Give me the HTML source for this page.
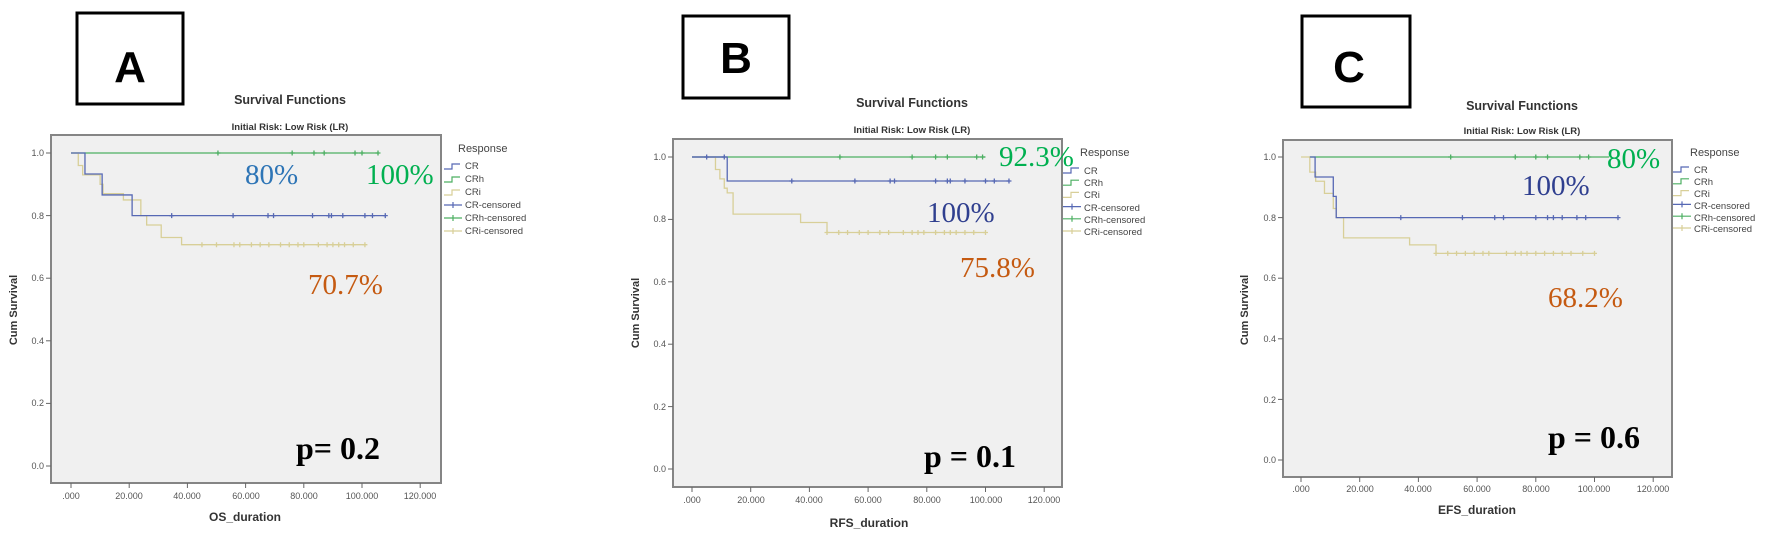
<!DOCTYPE html>
<html><head><meta charset="utf-8"><style>
html,body{margin:0;padding:0;background:#fff;}
svg{display:block;}
.tt{font-family:"Liberation Sans",sans-serif;font-weight:bold;fill:#333;}
.tk{font-family:"Liberation Sans",sans-serif;font-size:9px;fill:#555;}
.lg{font-family:"Liberation Sans",sans-serif;font-size:9.5px;fill:#444;}
.pc{font-family:"Liberation Serif",serif;font-size:29px;}
.pv{font-family:"Liberation Serif",serif;font-size:32px;font-weight:bold;fill:#000;}
.bl{font-family:"Liberation Sans",sans-serif;font-weight:bold;font-size:44px;fill:#000;}
</style></head><body>
<svg id="s" width="1772" height="543" viewBox="0 0 1772 543" xmlns="http://www.w3.org/2000/svg">
<!-- label boxes -->
<rect x="77" y="13" width="106" height="91" fill="#fff" stroke="#000" stroke-width="3"/>
<text class="bl" x="130" y="82" text-anchor="middle">A</text>
<rect x="683" y="16" width="106" height="82" fill="#fff" stroke="#000" stroke-width="3"/>
<text class="bl" x="736" y="73" text-anchor="middle">B</text>
<rect x="1302" y="16" width="108" height="91" fill="#fff" stroke="#000" stroke-width="3"/>
<text class="bl" x="1349" y="82" text-anchor="middle">C</text>

<!-- titles -->
<text class="tt" x="290" y="104" font-size="12.5" text-anchor="middle">Survival Functions</text>
<text class="tt" x="290" y="130" font-size="9.5" text-anchor="middle">Initial Risk: Low Risk (LR)</text>
<text class="tt" x="912" y="107" font-size="12.5" text-anchor="middle">Survival Functions</text>
<text class="tt" x="912" y="133" font-size="9.5" text-anchor="middle">Initial Risk: Low Risk (LR)</text>
<text class="tt" x="1522" y="110" font-size="12.5" text-anchor="middle">Survival Functions</text>
<text class="tt" x="1522" y="134" font-size="9.5" text-anchor="middle">Initial Risk: Low Risk (LR)</text>

<!-- plot backgrounds -->
<rect x="51" y="135" width="390" height="348" fill="#f0f0f0" stroke="#858585" stroke-width="2"/>
<rect x="673" y="139" width="389" height="348" fill="#f0f0f0" stroke="#858585" stroke-width="2"/>
<rect x="1283" y="140" width="389" height="337" fill="#f0f0f0" stroke="#858585" stroke-width="2"/>
<g id="plots"></g>

<!-- y tick labels A -->
<g class="tk" text-anchor="end">
<text x="44" y="156">1.0</text><text x="44" y="219">0.8</text><text x="44" y="281">0.6</text><text x="44" y="344">0.4</text><text x="44" y="406">0.2</text><text x="44" y="469">0.0</text>
<text x="666" y="160">1.0</text><text x="666" y="222">0.8</text><text x="666" y="285">0.6</text><text x="666" y="347">0.4</text><text x="666" y="410">0.2</text><text x="666" y="472">0.0</text>
<text x="1276" y="160">1.0</text><text x="1276" y="221">0.8</text><text x="1276" y="281">0.6</text><text x="1276" y="342">0.4</text><text x="1276" y="403">0.2</text><text x="1276" y="463">0.0</text>
</g>
<g class="tk" text-anchor="middle">
<text x="71" y="499">.000</text><text x="129" y="499">20.000</text><text x="187" y="499">40.000</text><text x="246" y="499">60.000</text><text x="304" y="499">80.000</text><text x="362" y="499">100.000</text><text x="420" y="499">120.000</text>
<text x="692" y="503">.000</text><text x="751" y="503">20.000</text><text x="809" y="503">40.000</text><text x="868" y="503">60.000</text><text x="927" y="503">80.000</text><text x="986" y="503">100.000</text><text x="1044" y="503">120.000</text>
<text x="1301" y="492">.000</text><text x="1360" y="492">20.000</text><text x="1418" y="492">40.000</text><text x="1477" y="492">60.000</text><text x="1536" y="492">80.000</text><text x="1594" y="492">100.000</text><text x="1653" y="492">120.000</text>
</g>
<text class="tt" x="245" y="521" font-size="12" text-anchor="middle">OS_duration</text>
<text class="tt" x="869" y="527" font-size="12" text-anchor="middle">RFS_duration</text>
<text class="tt" x="1477" y="514" font-size="12" text-anchor="middle">EFS_duration</text>
<text class="tt" font-size="11" transform="translate(17,310) rotate(-90)" text-anchor="middle">Cum Survival</text>
<text class="tt" font-size="11" transform="translate(639,313) rotate(-90)" text-anchor="middle">Cum Survival</text>
<text class="tt" font-size="11" transform="translate(1248,310) rotate(-90)" text-anchor="middle">Cum Survival</text>

<!-- legends text -->
<g class="lg">
<text x="458" y="152" font-size="11">Response</text>
<text x="465" y="169">CR</text><text x="465" y="182">CRh</text><text x="465" y="195">CRi</text><text x="465" y="208">CR-censored</text><text x="465" y="221">CRh-censored</text><text x="465" y="234">CRi-censored</text>
<text x="1080" y="156" font-size="11">Response</text>
<text x="1084" y="174">CR</text><text x="1084" y="186">CRh</text><text x="1084" y="198">CRi</text><text x="1084" y="211">CR-censored</text><text x="1084" y="223">CRh-censored</text><text x="1084" y="235">CRi-censored</text>
<text x="1690" y="156" font-size="11">Response</text>
<text x="1694" y="173">CR</text><text x="1694" y="185">CRh</text><text x="1694" y="197">CRi</text><text x="1694" y="209">CR-censored</text><text x="1694" y="221">CRh-censored</text><text x="1694" y="232">CRi-censored</text>
</g>

<!-- annotations -->
<text class="pc" x="245" y="184" fill="#2e75b6">80%</text>
<text class="pc" x="366" y="184" fill="#00b050">100%</text>
<text class="pc" x="308" y="294" fill="#c55a11">70.7%</text>
<text class="pv" x="296" y="459">p= 0.2</text>

<text class="pc" x="999" y="166" fill="#00b050">92.3%</text>
<text class="pc" x="927" y="222" fill="#2f3f8f">100%</text>
<text class="pc" x="960" y="277" fill="#c55a11">75.8%</text>
<text class="pv" x="924" y="467">p = 0.1</text>

<text class="pc" x="1607" y="168" fill="#00b050">80%</text>
<text class="pc" x="1522" y="195" fill="#2f3f8f">100%</text>
<text class="pc" x="1548" y="307" fill="#c55a11">68.2%</text>
<text class="pv" x="1548" y="448">p = 0.6</text>
</svg>
<script>
(function(){
var NS="http://www.w3.org/2000/svg",g=document.getElementById("plots");
function el(t,a){var e=document.createElementNS(NS,t);for(var k in a)e.setAttribute(k,a[k]);g.appendChild(e);return e;}
var BL="#5668b4",GR="#4caf62",BE="#d8cf98";
function panel(P){
  var X=function(t){return P.x0+t*P.pu},Y=function(s){return P.y0-s*(P.y0-P.y1)};
  // ticks
  for(var i=0;i<=5;i++){var y=Y(i*0.2);el("line",{x1:P.L-5,x2:P.L,y1:y,y2:y,stroke:"#666","stroke-width":1});}
  for(var i=0;i<=6;i++){var x=X(i*20);el("line",{x1:x,x2:x,y1:P.B,y2:P.B+5,stroke:"#666","stroke-width":1});}
  P.c.forEach(function(c){
    var d="M"+X(c.s[0][0])+","+Y(c.s[0][1]);
    for(var j=1;j<c.s.length;j++){d+=" H"+X(c.s[j][0])+" V"+Y(c.s[j][1]);}
    d+=" H"+X(c.end);
    el("path",{d:d,fill:"none",stroke:c.col,"stroke-width":1.3});
    c.cen.forEach(function(t){var x=X(t),y=Y(c.lv);
      el("path",{d:"M"+(x-2.5)+","+y+"H"+(x+2.5)+"M"+x+","+(y-2.5)+"V"+(y+2.5),stroke:c.col,"stroke-width":1.3});});
  });
  // legend
  var lx=P.lx,ly=P.ly,sp=P.ls;
  [BL,GR,BE].forEach(function(col,i){var y=ly+i*sp;
    el("path",{d:"M"+lx+","+(y+3)+"H"+(lx+8)+"V"+(y-2)+"H"+(lx+16),fill:"none",stroke:col,"stroke-width":1.2});});
  [BL,GR,BE].forEach(function(col,i){var y=ly+(i+3)*sp;
    el("path",{d:"M"+lx+","+y+"H"+(lx+18)+"M"+(lx+9)+","+(y-3)+"V"+(y+3),stroke:col,"stroke-width":1.2});});
}
function cen(a,b,n){var r=[];for(var i=0;i<n;i++)r.push(a+(b-a)*i/(n-1));return r;}
panel({L:51,B:483,x0:71,pu:2.91,y1:153,y0:466,lx:444,ly:166,ls:13,c:[
 {col:GR,s:[[0,1]],end:105.5,lv:1,cen:[50.5,76,83.5,87,97.6,100,105.5]},
 {col:BE,s:[[0,1],[2.5,0.96],[4,0.93],[10,0.9],[11,0.87],[18,0.85],[24,0.8],[26,0.77],[31,0.73],[38,0.707]],end:101,lv:0.707,cen:[45,50,56,58,62,65,68,72,75,78,80,85,88,90,92,94,97,101]},
 {col:BL,s:[[0,1],[4.8,0.933],[10.7,0.866],[21,0.8]],end:108,lv:0.8,cen:[34.6,55.7,67.7,69.6,83,88.6,89.5,93.4,101,103.6,108]}
]});
panel({L:673,B:487,x0:692,pu:2.935,y1:157,y0:469,lx:1063,ly:170,ls:12.2,c:[
 {col:GR,s:[[0,1]],end:100,lv:1,cen:[50.4,75,83,87,97,99]},
 {col:BE,s:[[0,1],[8,0.96],[9.5,0.93],[11,0.9],[12,0.885],[14,0.817],[37,0.79],[46,0.758]],end:100,lv:0.758,cen:[46,50,53,57,60,64,67,72,75,77,79,83,86,88,90,93,96,100]},
 {col:BL,s:[[0,1],[12,0.923]],end:108,lv:0.923,cen:[34,55.5,67.5,69,83,87,88,93,100,103,108]},
 {col:BL,s:[[0,1]],end:11,lv:1,cen:[5,11]}
]});
panel({L:1283,B:477,x0:1301,pu:2.935,y1:157,y0:460,lx:1673,ly:169,ls:11.8,c:[
 {col:GR,s:[[3,1]],end:105,lv:1,cen:[51,73,80,84,95,98]},
 {col:BE,s:[[0,1],[3,0.95],[5,0.92],[8,0.88],[11,0.83],[12,0.8],[14.5,0.733],[37,0.71],[46,0.682]],end:100,lv:0.682,cen:[46,50,53,56,59,62,64,70,73,75,77,80,83,86,89,92,96,100]},
 {col:BL,s:[[3,1],[4.8,0.934],[11,0.87],[12,0.8]],end:108,lv:0.8,cen:[34,55,66,69,80,84,86,89,94,97,108]}
]});
})();
</script>
</body></html>
